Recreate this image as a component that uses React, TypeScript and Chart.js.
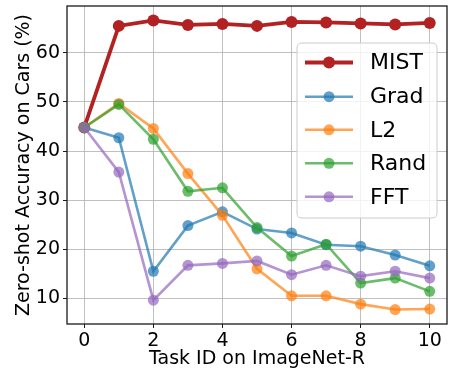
import React, { useEffect, useRef } from "react";
import { Chart, registerables } from "chart.js";
Chart.register(...registerables);

const taskIds = [0, 1, 2, 3, 4, 5, 6, 7, 8, 9, 10];
const mist = [44.8, 65.5, 66.6, 65.7, 65.9, 65.5, 66.3, 66.2, 66.0, 65.8, 66.1];
const grad = [44.8, 42.7, 15.5, 24.8, 27.6, 24.1, 23.3, 20.9, 20.6, 18.8, 16.6];
const l2 = [44.8, 49.7, 44.6, 35.4, 26.9, 16.0, 10.5, 10.5, 8.8, 7.7, 7.8];
const rand = [44.8, 49.5, 42.4, 31.8, 32.5, 24.4, 18.6, 21.0, 13.1, 14.1, 11.4];
const fft = [44.8, 35.7, 9.6, 16.7, 17.1, 17.6, 14.8, 16.7, 14.5, 15.5, 14.1];
const xTicks = [0, 2, 4, 6, 8, 10];
const yTicks = [10, 20, 30, 40, 50, 60];
const seriesNames = ["MIST", "Grad", "L2", "Rand", "FFT"];
const seriesColors = [
  "rgba(178,34,34,1)",
  "rgba(31,119,180,0.7)",
  "rgba(255,127,14,0.7)",
  "rgba(44,160,44,0.7)",
  "rgba(148,103,189,0.7)",
];
const seriesWidths = [3.8, 2.6, 2.6, 2.6, 2.6];
const seriesData = [mist, grad, l2, rand, fft];

const FONT = "'DejaVu Sans', sans-serif";

const framePlugin = {
  id: "frameAndLegend",
  afterDatasetsDraw(chart: any) {
    const { ctx, chartArea: a } = chart;
    ctx.save();
    ctx.strokeStyle = "#1a1a1a";
    ctx.lineWidth = 1.3;
    ctx.strokeRect(a.left, a.top, a.right - a.left, a.bottom - a.top);

    // legend
    const bx = 297, by = 43, bw = 140, bh = 175, r = 5;
    ctx.beginPath();
    ctx.moveTo(bx + r, by);
    ctx.lineTo(bx + bw - r, by);
    ctx.quadraticCurveTo(bx + bw, by, bx + bw, by + r);
    ctx.lineTo(bx + bw, by + bh - r);
    ctx.quadraticCurveTo(bx + bw, by + bh, bx + bw - r, by + bh);
    ctx.lineTo(bx + r, by + bh);
    ctx.quadraticCurveTo(bx, by + bh, bx, by + bh - r);
    ctx.lineTo(bx, by + r);
    ctx.quadraticCurveTo(bx, by, bx + r, by);
    ctx.closePath();
    ctx.fillStyle = "rgba(255,255,255,0.8)";
    ctx.fill();
    ctx.strokeStyle = "#cccccc";
    ctx.lineWidth = 1;
    ctx.stroke();

    const rows = [62.5, 96.7, 129.8, 163.3, 196.8];
    seriesNames.forEach((name, i) => {
      const y = rows[i];
      ctx.strokeStyle = seriesColors[i];
      ctx.lineWidth = seriesWidths[i];
      ctx.beginPath();
      ctx.moveTo(305, y);
      ctx.lineTo(353, y);
      ctx.stroke();
      ctx.fillStyle = seriesColors[i];
      ctx.beginPath();
      ctx.arc(329, y, i === 0 ? 6 : 5.5, 0, Math.PI * 2);
      ctx.fill();
      ctx.fillStyle = "#000";
      ctx.font = `22px ${FONT}`;
      ctx.textBaseline = "middle";
      ctx.textAlign = "left";
      ctx.fillText(name, 370, y + 1);
    });
    ctx.restore();
  },
};

export default function App() {
  const ref = useRef<HTMLCanvasElement>(null);
  useEffect(() => {
    document.body.style.margin = "0";
    const chart = new Chart(ref.current as HTMLCanvasElement, {
      type: "line",
      data: {
        labels: taskIds,
        datasets: seriesNames.map((name, i) => ({
          label: name,
          data: taskIds.map((x, j) => ({ x, y: seriesData[i][j] })),
          borderColor: seriesColors[i],
          backgroundColor: seriesColors[i],
          pointBackgroundColor: seriesColors[i],
          pointBorderWidth: 0,
          borderWidth: seriesWidths[i],
          pointRadius: i === 0 ? 6 : 5.5,
          tension: 0,
          order: seriesNames.length - i,
        })),
      },
      options: {
        animation: false,
        responsive: false,
        maintainAspectRatio: false,
        layout: { padding: { top: 3, right: 4, left: 0, bottom: 0 } },
        plugins: { legend: { display: false }, tooltip: { enabled: false } },
        scales: {
          x: {
            type: "linear",
            min: -0.5,
            max: 10.5,
            afterBuildTicks: (s: any) => {
              s.ticks = xTicks.map((v) => ({ value: v }));
            },
            afterFit: (s: any) => {
              s.height = 48;
              s.paddingLeft = 0;
              s.paddingRight = 0;
            },
            ticks: {
              color: "#000",
              font: { family: FONT, size: 19 },
              padding: 2,
              maxRotation: 0,
              autoSkip: false,
            },
            grid: {
              color: "rgba(176,176,176,0.8)",
              lineWidth: 1,
              tickLength: 4,
              tickColor: "#1a1a1a",
            },
            border: { display: false },
            title: {
              display: true,
              text: "Task ID on ImageNet-R",
              color: "#000",
              font: { family: FONT, size: 19 },
              padding: { top: 0, bottom: 2 },
            },
          },
          y: {
            type: "linear",
            min: 4.75,
            max: 69.55,
            afterBuildTicks: (s: any) => {
              s.ticks = yTicks.map((v) => ({ value: v }));
            },
            afterFit: (s: any) => {
              s.width = 67;
              s.paddingTop = 0;
              s.paddingBottom = 0;
            },
            ticks: {
              color: "#000",
              font: { family: FONT, size: 19 },
              padding: 3,
            },
            grid: {
              color: "rgba(176,176,176,0.8)",
              lineWidth: 1,
              tickLength: 4,
              tickColor: "#1a1a1a",
            },
            border: { display: false },
            title: {
              display: true,
              text: "Zero-shot Accuracy on Cars (%)",
              color: "#000",
              font: { family: FONT, size: 19 },
              padding: { top: 13, bottom: 0 },
            },
          },
        },
      },
      plugins: [framePlugin],
    });
    return () => chart.destroy();
  }, []);
  return (
    <div style={{ position: "fixed", left: 0, top: 0, width: 453, height: 372 }}>
      <canvas ref={ref} width={453} height={372} style={{ width: 453, height: 372 }} />
    </div>
  );
}
